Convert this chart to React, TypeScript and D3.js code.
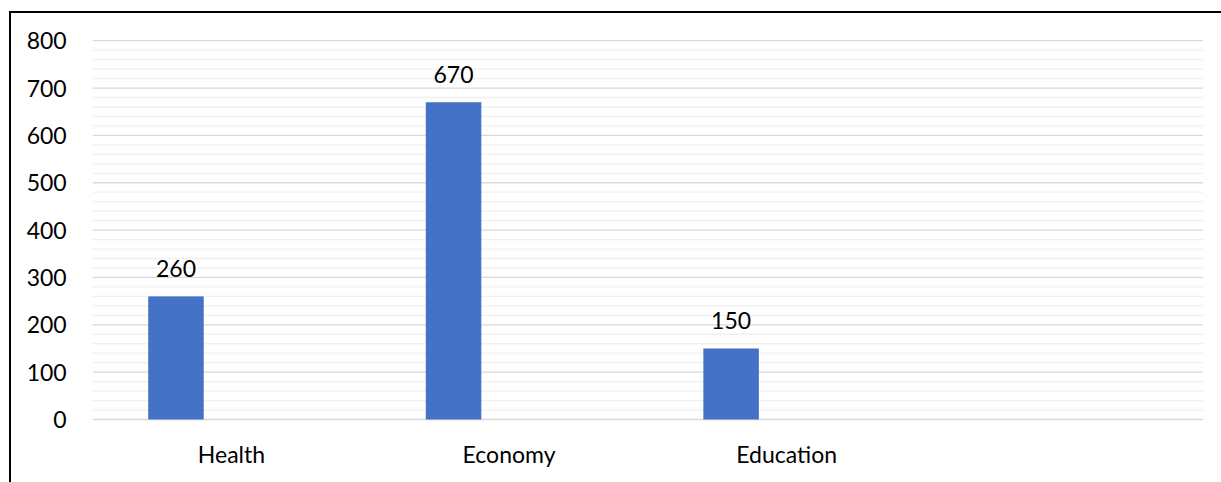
import React from "react";
import * as d3 from "d3";

const categories = ["Health", "Economy", "Education", ""];
const series = ["Series1", "Series2", "Series3"];
const series1Values: (number | null)[] = [260, 670, 150, null];
const yTicks = [0, 100, 200, 300, 400, 500, 600, 700, 800];
const minorTicks = d3.range(0, 801, 20).filter((v) => v % 100 !== 0);

const W = 1221;
const H = 482;
const plotLeft = 92.7;
const plotRight = 1203;
const plotTop = 40.7;
const plotBottom = 419.5;
const FONT = "Lato, 'Liberation Sans', sans-serif";
const FS = 23;

export default function App() {
  const x = d3.scaleBand<string>().domain(categories.map((c, i) => String(i))).range([plotLeft, plotRight]).padding(0);
  const xs = d3.scaleBand<string>().domain(series).range([0, x.bandwidth()]).paddingInner(0).paddingOuter(1);
  const y = d3.scaleLinear().domain([0, 800]).range([plotBottom, plotTop]);

  return (
    <svg width={W} height={H} style={{ position: "absolute", left: 0, top: 0, background: "#fff" }}>
      <rect x={0} y={0} width={W} height={H} fill="#fff" />
      {/* border */}
      <line x1={10} y1={12} x2={W} y2={12} stroke="#000" strokeWidth={2} />
      <line x1={10} y1={11} x2={10} y2={H} stroke="#000" strokeWidth={2} />
      {/* minor grid */}
      {minorTicks.map((v) => (
        <line key={"m" + v} x1={plotLeft} x2={plotRight} y1={y(v)} y2={y(v)} stroke="#f0f0f0" strokeWidth={1.3} />
      ))}
      {/* major grid */}
      {yTicks.map((v) => (
        <line key={"g" + v} x1={plotLeft} x2={plotRight} y1={y(v)} y2={y(v)} stroke="#d9d9d9" strokeWidth={1.3} />
      ))}
      {/* y labels */}
      {yTicks.map((v) => (
        <text key={"t" + v} x={66.7} y={y(v) + 8.5} textAnchor="end" fontFamily={FONT} fontSize={FS} fill="#000">
          {v}
        </text>
      ))}
      {/* bars */}
      {series1Values.map((v, i) =>
        v == null ? null : (
          <g key={"b" + i}>
            <rect
              x={x(String(i))! + xs("Series1")!}
              y={y(v)}
              width={xs.bandwidth()}
              height={y(0) - y(v)}
              fill="#4472C4"
            />
            <text
              x={x(String(i))! + xs("Series1")! + xs.bandwidth() / 2}
              y={y(v) - 19}
              textAnchor="middle"
              fontFamily={FONT}
              fontSize={FS}
              fill="#000"
            >
              {v}
            </text>
          </g>
        )
      )}
      {/* category labels */}
      {categories.map((c, i) => (
        <text
          key={"c" + i}
          x={x(String(i))! + x.bandwidth() / 2}
          y={462.5}
          textAnchor="middle"
          fontFamily={FONT}
          fontSize={FS}
          fill="#000"
        >
          {c}
        </text>
      ))}
    </svg>
  );
}
